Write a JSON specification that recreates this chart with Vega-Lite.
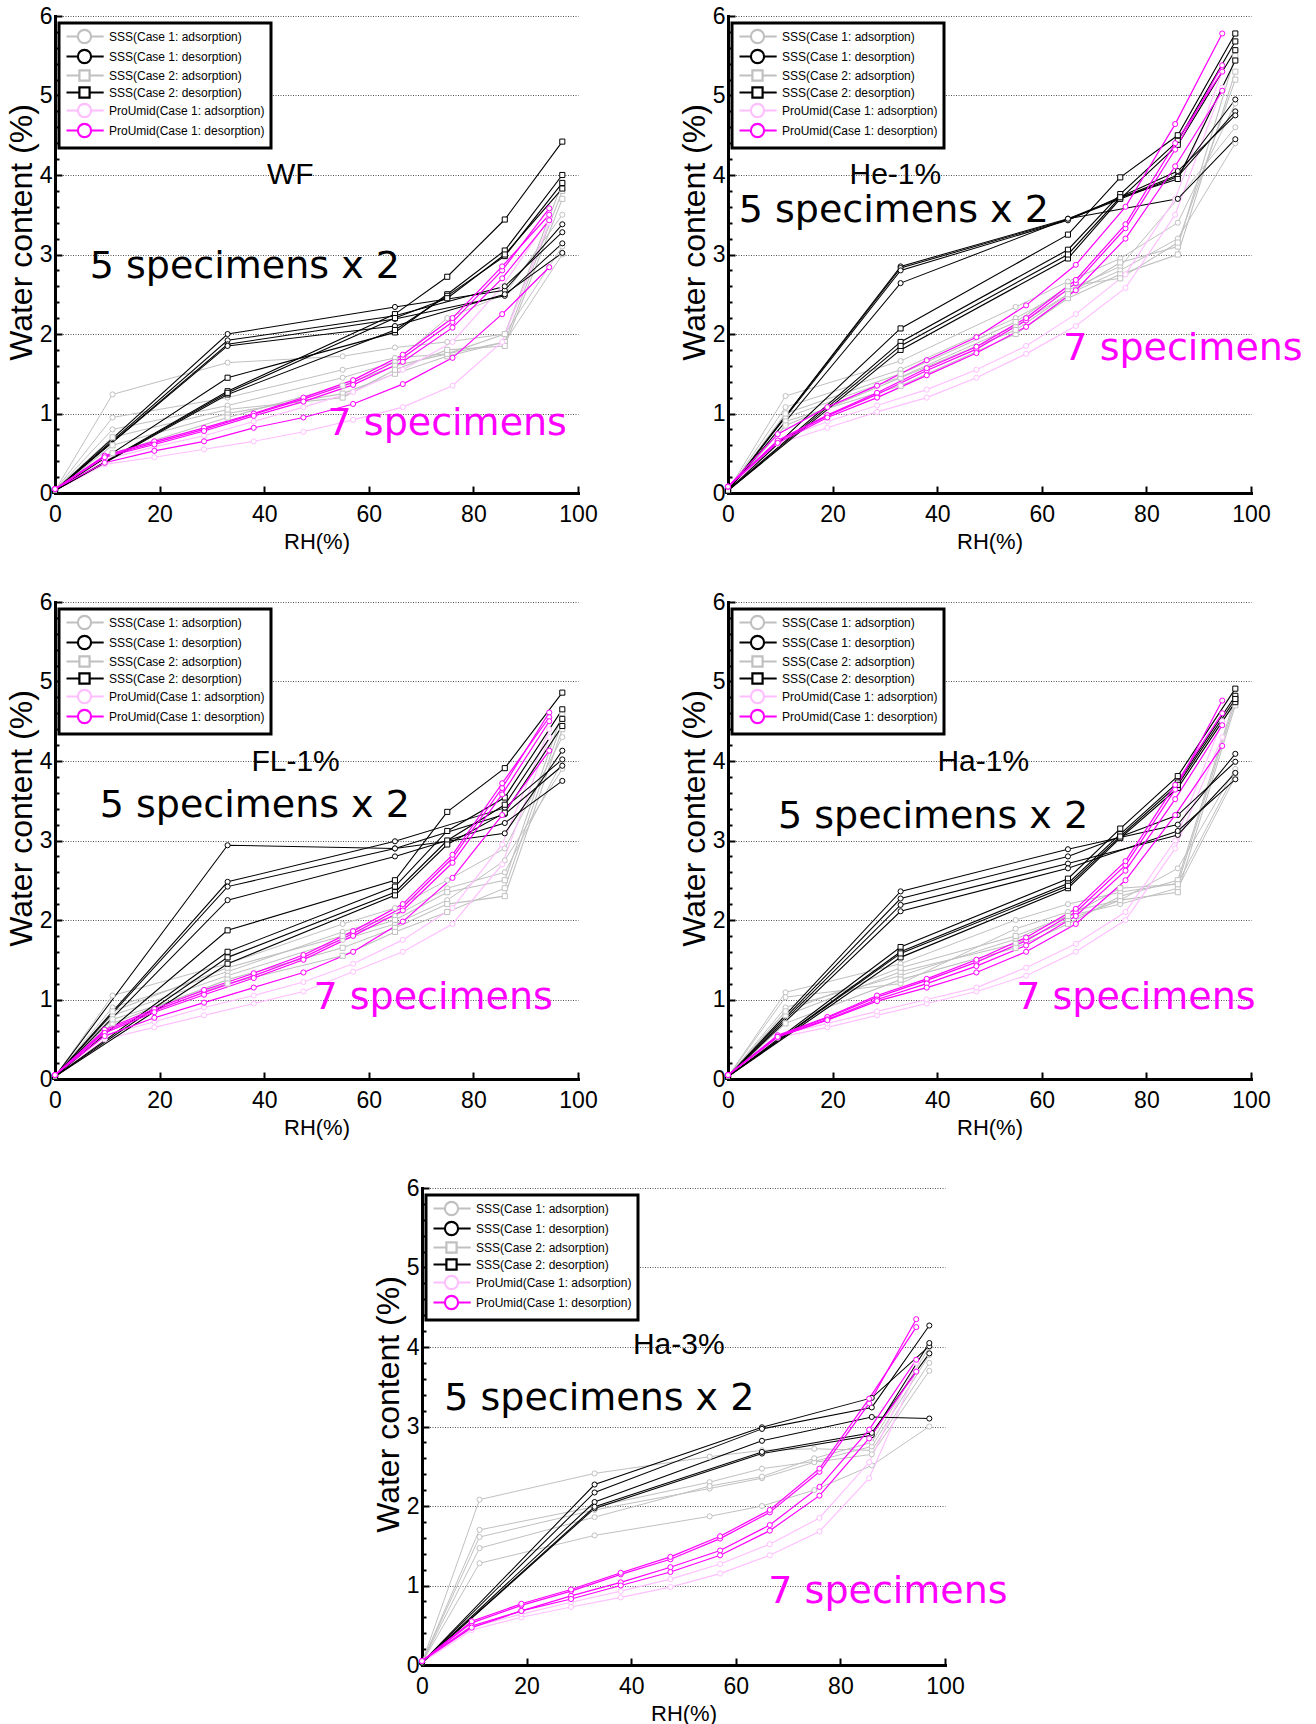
{
"$schema":"https://vega.github.io/schema/vega-lite/v6.json",
"padding":{"left":5,"top":5,"right":5,"bottom":2},
"background":"white",
"config":{
"view":{"stroke":null},
"axis":{"domainColor":"black","domainWidth":3,"domainCap":"square","tickColor":"black","tickWidth":2,"tickSize":-7,"labelFont":"Liberation Sans","labelFontSize":23,"labelColor":"black","labelFlush":false,"titleFont":"Liberation Sans","titleFontSize":22,"titleFontWeight":"normal","titleColor":"black","grid":false},
"axisX":{"labelPadding":17,"titlePadding":5},
"axisY":{"labelPadding":10,"titlePadding":0.5,"gridColor":"#555555","gridDash":[1,1.5],"gridWidth":1,"labelOverlap":false},
"legend":{"strokeColor":"black","fillColor":"white","padding":6,"labelFont":"Liberation Sans","labelFontSize":12,"labelColor":"black","labelLimit":0,"symbolSize":144,"rowPadding":-3,"labelOffset":29,"symbolStrokeWidth":2}
},
"datasets":{
"P1":[
{"g":"a1","i":1,"x":0,"y":0.03},{"g":"a1","i":1,"x":11,"y":1.24},{"g":"a1","i":1,"x":33,"y":1.64},{"g":"a1","i":1,"x":55,"y":1.72},{"g":"a1","i":1,"x":65,"y":1.83},{"g":"a1","i":1,"x":75,"y":1.9},{"g":"a1","i":1,"x":86,"y":2.0},{"g":"a1","i":1,"x":97,"y":3.1},
{"g":"a1","i":2,"x":0,"y":0.03},{"g":"a1","i":2,"x":11,"y":0.95},{"g":"a1","i":2,"x":33,"y":1.2},{"g":"a1","i":2,"x":55,"y":1.55},{"g":"a1","i":2,"x":65,"y":1.7},{"g":"a1","i":2,"x":75,"y":1.75},{"g":"a1","i":2,"x":86,"y":1.9},{"g":"a1","i":2,"x":97,"y":3.0},
{"g":"a1","i":3,"x":0,"y":0.03},{"g":"a1","i":3,"x":11,"y":0.8},{"g":"a1","i":3,"x":33,"y":1.1},{"g":"a1","i":3,"x":55,"y":1.45},{"g":"a1","i":3,"x":65,"y":1.65},{"g":"a1","i":3,"x":75,"y":2.2},{"g":"a1","i":3,"x":86,"y":2.5},{"g":"a1","i":3,"x":97,"y":3.5},
{"g":"a2","i":1,"x":0,"y":0.03},{"g":"a2","i":1,"x":11,"y":0.6},{"g":"a2","i":1,"x":33,"y":1.0},{"g":"a2","i":1,"x":55,"y":1.25},{"g":"a2","i":1,"x":65,"y":1.5},{"g":"a2","i":1,"x":75,"y":1.72},{"g":"a2","i":1,"x":86,"y":1.9},{"g":"a2","i":1,"x":97,"y":3.8},
{"g":"a2","i":2,"x":0,"y":0.03},{"g":"a2","i":2,"x":11,"y":0.5},{"g":"a2","i":2,"x":33,"y":0.95},{"g":"a2","i":2,"x":55,"y":1.35},{"g":"a2","i":2,"x":65,"y":1.6},{"g":"a2","i":2,"x":75,"y":1.75},{"g":"a2","i":2,"x":86,"y":2.0},{"g":"a2","i":2,"x":97,"y":3.9},
{"g":"a2","i":3,"x":0,"y":0.03},{"g":"a2","i":3,"x":11,"y":0.7},{"g":"a2","i":3,"x":33,"y":1.05},{"g":"a2","i":3,"x":55,"y":1.2},{"g":"a2","i":3,"x":65,"y":1.55},{"g":"a2","i":3,"x":75,"y":1.8},{"g":"a2","i":3,"x":86,"y":1.85},{"g":"a2","i":3,"x":97,"y":3.7},
{"g":"pa","i":1,"x":0,"y":0.03},{"g":"pa","i":1,"x":9.5,"y":0.36},{"g":"pa","i":1,"x":19,"y":0.45},{"g":"pa","i":1,"x":28.5,"y":0.55},{"g":"pa","i":1,"x":38,"y":0.65},{"g":"pa","i":1,"x":47.5,"y":0.77},{"g":"pa","i":1,"x":57,"y":0.92},{"g":"pa","i":1,"x":66.5,"y":1.08},{"g":"pa","i":1,"x":76,"y":1.35},{"g":"pa","i":1,"x":85.5,"y":1.9},{"g":"pa","i":1,"x":94.5,"y":3.4},
{"g":"pa","i":2,"x":0,"y":0.03},{"g":"pa","i":2,"x":9.5,"y":0.42},{"g":"pa","i":2,"x":19,"y":0.58},{"g":"pa","i":2,"x":28.5,"y":0.72},{"g":"pa","i":2,"x":38,"y":0.9},{"g":"pa","i":2,"x":47.5,"y":1.08},{"g":"pa","i":2,"x":57,"y":1.27},{"g":"pa","i":2,"x":66.5,"y":1.55},{"g":"pa","i":2,"x":76,"y":1.9},{"g":"pa","i":2,"x":85.5,"y":2.6},{"g":"pa","i":2,"x":94.5,"y":3.45},
{"g":"d1","i":1,"x":0,"y":0.03},{"g":"d1","i":1,"x":33,"y":2.0},{"g":"d1","i":1,"x":65,"y":2.34},{"g":"d1","i":1,"x":86,"y":2.55},{"g":"d1","i":1,"x":97,"y":3.38},
{"g":"d1","i":2,"x":0,"y":0.03},{"g":"d1","i":2,"x":33,"y":1.92},{"g":"d1","i":2,"x":65,"y":2.23},{"g":"d1","i":2,"x":86,"y":2.6},{"g":"d1","i":2,"x":97,"y":3.28},
{"g":"d1","i":3,"x":0,"y":0.03},{"g":"d1","i":3,"x":33,"y":1.87},{"g":"d1","i":3,"x":65,"y":2.19},{"g":"d1","i":3,"x":86,"y":2.48},{"g":"d1","i":3,"x":97,"y":3.14},
{"g":"d1","i":4,"x":0,"y":0.03},{"g":"d1","i":4,"x":33,"y":1.85},{"g":"d1","i":4,"x":65,"y":2.1},{"g":"d1","i":4,"x":86,"y":2.5},{"g":"d1","i":4,"x":97,"y":3.02},
{"g":"d2","i":1,"x":0,"y":0.03},{"g":"d2","i":1,"x":33,"y":1.28},{"g":"d2","i":1,"x":65,"y":2.25},{"g":"d2","i":1,"x":75,"y":2.72},{"g":"d2","i":1,"x":86,"y":3.44},{"g":"d2","i":1,"x":97,"y":4.42},
{"g":"d2","i":2,"x":0,"y":0.03},{"g":"d2","i":2,"x":33,"y":1.45},{"g":"d2","i":2,"x":65,"y":2.02},{"g":"d2","i":2,"x":75,"y":2.5},{"g":"d2","i":2,"x":86,"y":3.05},{"g":"d2","i":2,"x":97,"y":4.0},
{"g":"d2","i":3,"x":0,"y":0.03},{"g":"d2","i":3,"x":33,"y":1.24},{"g":"d2","i":3,"x":65,"y":2.05},{"g":"d2","i":3,"x":75,"y":2.48},{"g":"d2","i":3,"x":86,"y":2.98},{"g":"d2","i":3,"x":97,"y":3.9},
{"g":"d2","i":4,"x":0,"y":0.03},{"g":"d2","i":4,"x":33,"y":1.26},{"g":"d2","i":4,"x":65,"y":2.2},{"g":"d2","i":4,"x":75,"y":2.45},{"g":"d2","i":4,"x":86,"y":3.0},{"g":"d2","i":4,"x":97,"y":3.83},
{"g":"pd","i":1,"x":0,"y":0.05},{"g":"pd","i":1,"x":9.5,"y":0.46},{"g":"pd","i":1,"x":19,"y":0.63},{"g":"pd","i":1,"x":28.5,"y":0.8},{"g":"pd","i":1,"x":38,"y":0.99},{"g":"pd","i":1,"x":47.5,"y":1.18},{"g":"pd","i":1,"x":57,"y":1.39},{"g":"pd","i":1,"x":66.5,"y":1.7},{"g":"pd","i":1,"x":76,"y":2.15},{"g":"pd","i":1,"x":85.5,"y":2.8},{"g":"pd","i":1,"x":94.5,"y":3.58},
{"g":"pd","i":2,"x":0,"y":0.05},{"g":"pd","i":2,"x":9.5,"y":0.47},{"g":"pd","i":2,"x":19,"y":0.65},{"g":"pd","i":2,"x":28.5,"y":0.82},{"g":"pd","i":2,"x":38,"y":1.0},{"g":"pd","i":2,"x":47.5,"y":1.2},{"g":"pd","i":2,"x":57,"y":1.42},{"g":"pd","i":2,"x":66.5,"y":1.74},{"g":"pd","i":2,"x":76,"y":2.2},{"g":"pd","i":2,"x":85.5,"y":2.85},{"g":"pd","i":2,"x":94.5,"y":3.5},
{"g":"pd","i":3,"x":0,"y":0.05},{"g":"pd","i":3,"x":9.5,"y":0.45},{"g":"pd","i":3,"x":19,"y":0.61},{"g":"pd","i":3,"x":28.5,"y":0.78},{"g":"pd","i":3,"x":38,"y":0.97},{"g":"pd","i":3,"x":47.5,"y":1.15},{"g":"pd","i":3,"x":57,"y":1.36},{"g":"pd","i":3,"x":66.5,"y":1.65},{"g":"pd","i":3,"x":76,"y":2.08},{"g":"pd","i":3,"x":85.5,"y":2.7},{"g":"pd","i":3,"x":94.5,"y":3.43},
{"g":"pd","i":4,"x":0,"y":0.05},{"g":"pd","i":4,"x":9.5,"y":0.38},{"g":"pd","i":4,"x":19,"y":0.53},{"g":"pd","i":4,"x":28.5,"y":0.65},{"g":"pd","i":4,"x":38,"y":0.82},{"g":"pd","i":4,"x":47.5,"y":0.95},{"g":"pd","i":4,"x":57,"y":1.12},{"g":"pd","i":4,"x":66.5,"y":1.37},{"g":"pd","i":4,"x":76,"y":1.7},{"g":"pd","i":4,"x":85.5,"y":2.25},{"g":"pd","i":4,"x":94.5,"y":2.84}
],
"P2":[
{"g":"a1","i":1,"x":0,"y":0.03},{"g":"a1","i":1,"x":11,"y":1.22},{"g":"a1","i":1,"x":33,"y":1.66},{"g":"a1","i":1,"x":55,"y":2.34},{"g":"a1","i":1,"x":65,"y":2.66},{"g":"a1","i":1,"x":75,"y":2.95},{"g":"a1","i":1,"x":86,"y":3.4},{"g":"a1","i":1,"x":97,"y":4.9},
{"g":"a1","i":2,"x":0,"y":0.03},{"g":"a1","i":2,"x":11,"y":1.08},{"g":"a1","i":2,"x":33,"y":1.55},{"g":"a1","i":2,"x":55,"y":2.2},{"g":"a1","i":2,"x":65,"y":2.55},{"g":"a1","i":2,"x":75,"y":2.85},{"g":"a1","i":2,"x":86,"y":3.7},{"g":"a1","i":2,"x":97,"y":4.6},
{"g":"a1","i":3,"x":0,"y":0.03},{"g":"a1","i":3,"x":11,"y":0.95},{"g":"a1","i":3,"x":33,"y":1.46},{"g":"a1","i":3,"x":55,"y":2.1},{"g":"a1","i":3,"x":65,"y":2.5},{"g":"a1","i":3,"x":75,"y":2.8},{"g":"a1","i":3,"x":86,"y":3.2},{"g":"a1","i":3,"x":97,"y":4.4},
{"g":"a2","i":1,"x":0,"y":0.03},{"g":"a2","i":1,"x":11,"y":0.9},{"g":"a2","i":1,"x":33,"y":1.35},{"g":"a2","i":1,"x":55,"y":2.0},{"g":"a2","i":1,"x":65,"y":2.45},{"g":"a2","i":1,"x":75,"y":2.75},{"g":"a2","i":1,"x":86,"y":3.0},{"g":"a2","i":1,"x":97,"y":5.3},
{"g":"a2","i":2,"x":0,"y":0.03},{"g":"a2","i":2,"x":11,"y":0.85},{"g":"a2","i":2,"x":33,"y":1.45},{"g":"a2","i":2,"x":55,"y":2.05},{"g":"a2","i":2,"x":65,"y":2.5},{"g":"a2","i":2,"x":75,"y":2.9},{"g":"a2","i":2,"x":86,"y":3.1},{"g":"a2","i":2,"x":97,"y":5.5},
{"g":"a2","i":3,"x":0,"y":0.03},{"g":"a2","i":3,"x":11,"y":1.0},{"g":"a2","i":3,"x":33,"y":1.5},{"g":"a2","i":3,"x":55,"y":2.15},{"g":"a2","i":3,"x":65,"y":2.6},{"g":"a2","i":3,"x":75,"y":2.7},{"g":"a2","i":3,"x":86,"y":3.15},{"g":"a2","i":3,"x":97,"y":5.2},
{"g":"pa","i":1,"x":0,"y":0.03},{"g":"pa","i":1,"x":9.5,"y":0.62},{"g":"pa","i":1,"x":19,"y":0.82},{"g":"pa","i":1,"x":28.5,"y":1.02},{"g":"pa","i":1,"x":38,"y":1.2},{"g":"pa","i":1,"x":47.5,"y":1.45},{"g":"pa","i":1,"x":57,"y":1.75},{"g":"pa","i":1,"x":66.5,"y":2.1},{"g":"pa","i":1,"x":76,"y":2.58},{"g":"pa","i":1,"x":85.5,"y":3.5},{"g":"pa","i":1,"x":94.5,"y":5.1},
{"g":"pa","i":2,"x":0,"y":0.03},{"g":"pa","i":2,"x":9.5,"y":0.66},{"g":"pa","i":2,"x":19,"y":0.9},{"g":"pa","i":2,"x":28.5,"y":1.1},{"g":"pa","i":2,"x":38,"y":1.3},{"g":"pa","i":2,"x":47.5,"y":1.55},{"g":"pa","i":2,"x":57,"y":1.85},{"g":"pa","i":2,"x":66.5,"y":2.25},{"g":"pa","i":2,"x":76,"y":2.75},{"g":"pa","i":2,"x":85.5,"y":3.7},{"g":"pa","i":2,"x":94.5,"y":5.3},
{"g":"d1","i":1,"x":0,"y":0.03},{"g":"d1","i":1,"x":33,"y":2.85},{"g":"d1","i":1,"x":65,"y":3.45},{"g":"d1","i":1,"x":86,"y":4.0},{"g":"d1","i":1,"x":97,"y":4.95},
{"g":"d1","i":2,"x":0,"y":0.03},{"g":"d1","i":2,"x":33,"y":2.83},{"g":"d1","i":2,"x":65,"y":3.44},{"g":"d1","i":2,"x":86,"y":3.98},{"g":"d1","i":2,"x":97,"y":4.8},
{"g":"d1","i":3,"x":0,"y":0.03},{"g":"d1","i":3,"x":33,"y":2.8},{"g":"d1","i":3,"x":65,"y":3.43},{"g":"d1","i":3,"x":86,"y":4.05},{"g":"d1","i":3,"x":97,"y":4.75},
{"g":"d1","i":4,"x":0,"y":0.03},{"g":"d1","i":4,"x":33,"y":2.64},{"g":"d1","i":4,"x":65,"y":3.45},{"g":"d1","i":4,"x":86,"y":3.7},{"g":"d1","i":4,"x":97,"y":4.45},
{"g":"d2","i":1,"x":0,"y":0.03},{"g":"d2","i":1,"x":33,"y":2.07},{"g":"d2","i":1,"x":65,"y":3.25},{"g":"d2","i":1,"x":75,"y":3.97},{"g":"d2","i":1,"x":86,"y":4.5},{"g":"d2","i":1,"x":97,"y":5.78},
{"g":"d2","i":2,"x":0,"y":0.03},{"g":"d2","i":2,"x":33,"y":1.9},{"g":"d2","i":2,"x":65,"y":3.06},{"g":"d2","i":2,"x":75,"y":3.76},{"g":"d2","i":2,"x":86,"y":4.43},{"g":"d2","i":2,"x":97,"y":5.68},
{"g":"d2","i":3,"x":0,"y":0.03},{"g":"d2","i":3,"x":33,"y":1.8},{"g":"d2","i":3,"x":65,"y":2.95},{"g":"d2","i":3,"x":75,"y":3.7},{"g":"d2","i":3,"x":86,"y":4.38},{"g":"d2","i":3,"x":97,"y":5.57},
{"g":"d2","i":4,"x":0,"y":0.03},{"g":"d2","i":4,"x":33,"y":1.85},{"g":"d2","i":4,"x":65,"y":3.0},{"g":"d2","i":4,"x":75,"y":3.72},{"g":"d2","i":4,"x":86,"y":3.95},{"g":"d2","i":4,"x":97,"y":5.44},
{"g":"pd","i":1,"x":0,"y":0.08},{"g":"pd","i":1,"x":9.5,"y":0.74},{"g":"pd","i":1,"x":19,"y":1.08},{"g":"pd","i":1,"x":28.5,"y":1.35},{"g":"pd","i":1,"x":38,"y":1.67},{"g":"pd","i":1,"x":47.5,"y":1.96},{"g":"pd","i":1,"x":57,"y":2.36},{"g":"pd","i":1,"x":66.5,"y":2.87},{"g":"pd","i":1,"x":76,"y":3.6},{"g":"pd","i":1,"x":85.5,"y":4.64},{"g":"pd","i":1,"x":94.5,"y":5.78},
{"g":"pd","i":2,"x":0,"y":0.08},{"g":"pd","i":2,"x":9.5,"y":0.65},{"g":"pd","i":2,"x":19,"y":0.97},{"g":"pd","i":2,"x":28.5,"y":1.24},{"g":"pd","i":2,"x":38,"y":1.54},{"g":"pd","i":2,"x":47.5,"y":1.81},{"g":"pd","i":2,"x":57,"y":2.17},{"g":"pd","i":2,"x":66.5,"y":2.64},{"g":"pd","i":2,"x":76,"y":3.33},{"g":"pd","i":2,"x":85.5,"y":4.32},{"g":"pd","i":2,"x":94.5,"y":5.38},
{"g":"pd","i":3,"x":0,"y":0.08},{"g":"pd","i":3,"x":9.5,"y":0.66},{"g":"pd","i":3,"x":19,"y":0.98},{"g":"pd","i":3,"x":28.5,"y":1.26},{"g":"pd","i":3,"x":38,"y":1.57},{"g":"pd","i":3,"x":47.5,"y":1.84},{"g":"pd","i":3,"x":57,"y":2.2},{"g":"pd","i":3,"x":66.5,"y":2.68},{"g":"pd","i":3,"x":76,"y":3.38},{"g":"pd","i":3,"x":85.5,"y":4.4},{"g":"pd","i":3,"x":94.5,"y":5.3},
{"g":"pd","i":4,"x":0,"y":0.08},{"g":"pd","i":4,"x":9.5,"y":0.63},{"g":"pd","i":4,"x":19,"y":0.95},{"g":"pd","i":4,"x":28.5,"y":1.2},{"g":"pd","i":4,"x":38,"y":1.48},{"g":"pd","i":4,"x":47.5,"y":1.76},{"g":"pd","i":4,"x":57,"y":2.09},{"g":"pd","i":4,"x":66.5,"y":2.55},{"g":"pd","i":4,"x":76,"y":3.2},{"g":"pd","i":4,"x":85.5,"y":4.11},{"g":"pd","i":4,"x":94.5,"y":5.06}
],
"P3":[
{"g":"a1","i":1,"x":0,"y":0.03},{"g":"a1","i":1,"x":11,"y":1.05},{"g":"a1","i":1,"x":33,"y":1.45},{"g":"a1","i":1,"x":55,"y":1.95},{"g":"a1","i":1,"x":65,"y":2.15},{"g":"a1","i":1,"x":75,"y":2.5},{"g":"a1","i":1,"x":86,"y":2.9},{"g":"a1","i":1,"x":97,"y":4.3},
{"g":"a1","i":2,"x":0,"y":0.03},{"g":"a1","i":2,"x":11,"y":0.9},{"g":"a1","i":2,"x":33,"y":1.35},{"g":"a1","i":2,"x":55,"y":1.85},{"g":"a1","i":2,"x":65,"y":2.05},{"g":"a1","i":2,"x":75,"y":2.4},{"g":"a1","i":2,"x":86,"y":2.6},{"g":"a1","i":2,"x":97,"y":4.0},
{"g":"a1","i":3,"x":0,"y":0.03},{"g":"a1","i":3,"x":11,"y":0.8},{"g":"a1","i":3,"x":33,"y":1.3},{"g":"a1","i":3,"x":55,"y":1.75},{"g":"a1","i":3,"x":65,"y":1.95},{"g":"a1","i":3,"x":75,"y":2.25},{"g":"a1","i":3,"x":86,"y":2.75},{"g":"a1","i":3,"x":97,"y":3.9},
{"g":"a2","i":1,"x":0,"y":0.03},{"g":"a2","i":1,"x":11,"y":0.7},{"g":"a2","i":1,"x":33,"y":1.25},{"g":"a2","i":1,"x":55,"y":1.65},{"g":"a2","i":1,"x":65,"y":1.9},{"g":"a2","i":1,"x":75,"y":2.2},{"g":"a2","i":1,"x":86,"y":2.3},{"g":"a2","i":1,"x":97,"y":4.4},
{"g":"a2","i":2,"x":0,"y":0.03},{"g":"a2","i":2,"x":11,"y":0.75},{"g":"a2","i":2,"x":33,"y":1.2},{"g":"a2","i":2,"x":55,"y":1.55},{"g":"a2","i":2,"x":65,"y":1.85},{"g":"a2","i":2,"x":75,"y":2.1},{"g":"a2","i":2,"x":86,"y":2.4},{"g":"a2","i":2,"x":97,"y":4.5},
{"g":"a2","i":3,"x":0,"y":0.03},{"g":"a2","i":3,"x":11,"y":0.85},{"g":"a2","i":3,"x":33,"y":1.4},{"g":"a2","i":3,"x":55,"y":1.8},{"g":"a2","i":3,"x":65,"y":2.0},{"g":"a2","i":3,"x":75,"y":2.35},{"g":"a2","i":3,"x":86,"y":2.5},{"g":"a2","i":3,"x":97,"y":4.6},
{"g":"pa","i":1,"x":0,"y":0.03},{"g":"pa","i":1,"x":9.5,"y":0.5},{"g":"pa","i":1,"x":19,"y":0.65},{"g":"pa","i":1,"x":28.5,"y":0.8},{"g":"pa","i":1,"x":38,"y":0.95},{"g":"pa","i":1,"x":47.5,"y":1.1},{"g":"pa","i":1,"x":57,"y":1.35},{"g":"pa","i":1,"x":66.5,"y":1.6},{"g":"pa","i":1,"x":76,"y":1.95},{"g":"pa","i":1,"x":85.5,"y":2.7},{"g":"pa","i":1,"x":94.5,"y":4.3},
{"g":"pa","i":2,"x":0,"y":0.03},{"g":"pa","i":2,"x":9.5,"y":0.55},{"g":"pa","i":2,"x":19,"y":0.72},{"g":"pa","i":2,"x":28.5,"y":0.9},{"g":"pa","i":2,"x":38,"y":1.05},{"g":"pa","i":2,"x":47.5,"y":1.22},{"g":"pa","i":2,"x":57,"y":1.45},{"g":"pa","i":2,"x":66.5,"y":1.75},{"g":"pa","i":2,"x":76,"y":2.15},{"g":"pa","i":2,"x":85.5,"y":2.95},{"g":"pa","i":2,"x":94.5,"y":4.4},
{"g":"d1","i":1,"x":0,"y":0.03},{"g":"d1","i":1,"x":33,"y":2.94},{"g":"d1","i":1,"x":65,"y":2.9},{"g":"d1","i":1,"x":86,"y":3.09},{"g":"d1","i":1,"x":97,"y":4.13},
{"g":"d1","i":2,"x":0,"y":0.03},{"g":"d1","i":2,"x":33,"y":2.48},{"g":"d1","i":2,"x":65,"y":2.99},{"g":"d1","i":2,"x":86,"y":3.41},{"g":"d1","i":2,"x":97,"y":4.02},
{"g":"d1","i":3,"x":0,"y":0.03},{"g":"d1","i":3,"x":33,"y":2.42},{"g":"d1","i":3,"x":65,"y":2.9},{"g":"d1","i":3,"x":86,"y":3.33},{"g":"d1","i":3,"x":97,"y":3.94},
{"g":"d1","i":4,"x":0,"y":0.03},{"g":"d1","i":4,"x":33,"y":2.25},{"g":"d1","i":4,"x":65,"y":2.8},{"g":"d1","i":4,"x":86,"y":3.22},{"g":"d1","i":4,"x":97,"y":3.75},
{"g":"d2","i":1,"x":0,"y":0.03},{"g":"d2","i":1,"x":33,"y":1.87},{"g":"d2","i":1,"x":65,"y":2.5},{"g":"d2","i":1,"x":75,"y":3.36},{"g":"d2","i":1,"x":86,"y":3.91},{"g":"d2","i":1,"x":97,"y":4.86},
{"g":"d2","i":2,"x":0,"y":0.03},{"g":"d2","i":2,"x":33,"y":1.6},{"g":"d2","i":2,"x":65,"y":2.42},{"g":"d2","i":2,"x":75,"y":3.12},{"g":"d2","i":2,"x":86,"y":3.54},{"g":"d2","i":2,"x":97,"y":4.65},
{"g":"d2","i":3,"x":0,"y":0.03},{"g":"d2","i":3,"x":33,"y":1.53},{"g":"d2","i":3,"x":65,"y":2.35},{"g":"d2","i":3,"x":75,"y":3.0},{"g":"d2","i":3,"x":86,"y":3.45},{"g":"d2","i":3,"x":97,"y":4.53},
{"g":"d2","i":4,"x":0,"y":0.03},{"g":"d2","i":4,"x":33,"y":1.45},{"g":"d2","i":4,"x":65,"y":2.31},{"g":"d2","i":4,"x":75,"y":2.95},{"g":"d2","i":4,"x":86,"y":3.35},{"g":"d2","i":4,"x":97,"y":4.44},
{"g":"pd","i":1,"x":0,"y":0.05},{"g":"pd","i":1,"x":9.5,"y":0.6},{"g":"pd","i":1,"x":19,"y":0.86},{"g":"pd","i":1,"x":28.5,"y":1.09},{"g":"pd","i":1,"x":38,"y":1.3},{"g":"pd","i":1,"x":47.5,"y":1.53},{"g":"pd","i":1,"x":57,"y":1.83},{"g":"pd","i":1,"x":66.5,"y":2.16},{"g":"pd","i":1,"x":76,"y":2.78},{"g":"pd","i":1,"x":85.5,"y":3.66},{"g":"pd","i":1,"x":94.5,"y":4.61},
{"g":"pd","i":2,"x":0,"y":0.05},{"g":"pd","i":2,"x":9.5,"y":0.62},{"g":"pd","i":2,"x":19,"y":0.88},{"g":"pd","i":2,"x":28.5,"y":1.12},{"g":"pd","i":2,"x":38,"y":1.33},{"g":"pd","i":2,"x":47.5,"y":1.56},{"g":"pd","i":2,"x":57,"y":1.86},{"g":"pd","i":2,"x":66.5,"y":2.2},{"g":"pd","i":2,"x":76,"y":2.82},{"g":"pd","i":2,"x":85.5,"y":3.72},{"g":"pd","i":2,"x":94.5,"y":4.55},
{"g":"pd","i":3,"x":0,"y":0.05},{"g":"pd","i":3,"x":9.5,"y":0.58},{"g":"pd","i":3,"x":19,"y":0.84},{"g":"pd","i":3,"x":28.5,"y":1.06},{"g":"pd","i":3,"x":38,"y":1.27},{"g":"pd","i":3,"x":47.5,"y":1.5},{"g":"pd","i":3,"x":57,"y":1.8},{"g":"pd","i":3,"x":66.5,"y":2.12},{"g":"pd","i":3,"x":76,"y":2.72},{"g":"pd","i":3,"x":85.5,"y":3.58},{"g":"pd","i":3,"x":94.5,"y":4.5},
{"g":"pd","i":4,"x":0,"y":0.05},{"g":"pd","i":4,"x":9.5,"y":0.54},{"g":"pd","i":4,"x":19,"y":0.77},{"g":"pd","i":4,"x":28.5,"y":0.96},{"g":"pd","i":4,"x":38,"y":1.15},{"g":"pd","i":4,"x":47.5,"y":1.34},{"g":"pd","i":4,"x":57,"y":1.6},{"g":"pd","i":4,"x":66.5,"y":1.98},{"g":"pd","i":4,"x":76,"y":2.53},{"g":"pd","i":4,"x":85.5,"y":3.32},{"g":"pd","i":4,"x":94.5,"y":4.13}
],
"P4":[
{"g":"a1","i":1,"x":0,"y":0.03},{"g":"a1","i":1,"x":11,"y":1.09},{"g":"a1","i":1,"x":33,"y":1.45},{"g":"a1","i":1,"x":55,"y":2.0},{"g":"a1","i":1,"x":65,"y":2.2},{"g":"a1","i":1,"x":75,"y":2.35},{"g":"a1","i":1,"x":86,"y":2.46},{"g":"a1","i":1,"x":97,"y":3.85},
{"g":"a1","i":2,"x":0,"y":0.03},{"g":"a1","i":2,"x":11,"y":1.03},{"g":"a1","i":2,"x":33,"y":1.2},{"g":"a1","i":2,"x":55,"y":1.89},{"g":"a1","i":2,"x":65,"y":2.1},{"g":"a1","i":2,"x":75,"y":2.25},{"g":"a1","i":2,"x":86,"y":2.65},{"g":"a1","i":2,"x":97,"y":3.9},
{"g":"a1","i":3,"x":0,"y":0.03},{"g":"a1","i":3,"x":11,"y":0.9},{"g":"a1","i":3,"x":33,"y":1.3},{"g":"a1","i":3,"x":55,"y":1.76},{"g":"a1","i":3,"x":65,"y":2.05},{"g":"a1","i":3,"x":75,"y":2.2},{"g":"a1","i":3,"x":86,"y":2.4},{"g":"a1","i":3,"x":97,"y":3.8},
{"g":"a2","i":1,"x":0,"y":0.03},{"g":"a2","i":1,"x":11,"y":0.8},{"g":"a2","i":1,"x":33,"y":1.35},{"g":"a2","i":1,"x":55,"y":1.7},{"g":"a2","i":1,"x":65,"y":2.0},{"g":"a2","i":1,"x":75,"y":2.25},{"g":"a2","i":1,"x":86,"y":2.35},{"g":"a2","i":1,"x":97,"y":4.7},
{"g":"a2","i":2,"x":0,"y":0.03},{"g":"a2","i":2,"x":11,"y":0.7},{"g":"a2","i":2,"x":33,"y":1.25},{"g":"a2","i":2,"x":55,"y":1.65},{"g":"a2","i":2,"x":65,"y":1.95},{"g":"a2","i":2,"x":75,"y":2.3},{"g":"a2","i":2,"x":86,"y":2.5},{"g":"a2","i":2,"x":97,"y":4.8},
{"g":"a2","i":3,"x":0,"y":0.03},{"g":"a2","i":3,"x":11,"y":0.85},{"g":"a2","i":3,"x":33,"y":1.4},{"g":"a2","i":3,"x":55,"y":1.8},{"g":"a2","i":3,"x":65,"y":2.05},{"g":"a2","i":3,"x":75,"y":2.4},{"g":"a2","i":3,"x":86,"y":2.45},{"g":"a2","i":3,"x":97,"y":4.75},
{"g":"pa","i":1,"x":0,"y":0.03},{"g":"pa","i":1,"x":9.5,"y":0.52},{"g":"pa","i":1,"x":19,"y":0.65},{"g":"pa","i":1,"x":28.5,"y":0.8},{"g":"pa","i":1,"x":38,"y":0.95},{"g":"pa","i":1,"x":47.5,"y":1.1},{"g":"pa","i":1,"x":57,"y":1.3},{"g":"pa","i":1,"x":66.5,"y":1.6},{"g":"pa","i":1,"x":76,"y":2.0},{"g":"pa","i":1,"x":85.5,"y":2.9},{"g":"pa","i":1,"x":94.5,"y":4.3},
{"g":"pa","i":2,"x":0,"y":0.03},{"g":"pa","i":2,"x":9.5,"y":0.55},{"g":"pa","i":2,"x":19,"y":0.7},{"g":"pa","i":2,"x":28.5,"y":0.85},{"g":"pa","i":2,"x":38,"y":1.0},{"g":"pa","i":2,"x":47.5,"y":1.15},{"g":"pa","i":2,"x":57,"y":1.4},{"g":"pa","i":2,"x":66.5,"y":1.7},{"g":"pa","i":2,"x":76,"y":2.1},{"g":"pa","i":2,"x":85.5,"y":3.0},{"g":"pa","i":2,"x":94.5,"y":4.5},
{"g":"d1","i":1,"x":0,"y":0.03},{"g":"d1","i":1,"x":33,"y":2.36},{"g":"d1","i":1,"x":65,"y":2.89},{"g":"d1","i":1,"x":86,"y":3.2},{"g":"d1","i":1,"x":97,"y":4.09},
{"g":"d1","i":2,"x":0,"y":0.03},{"g":"d1","i":2,"x":33,"y":2.27},{"g":"d1","i":2,"x":65,"y":2.8},{"g":"d1","i":2,"x":86,"y":3.32},{"g":"d1","i":2,"x":97,"y":3.99},
{"g":"d1","i":3,"x":0,"y":0.03},{"g":"d1","i":3,"x":33,"y":2.19},{"g":"d1","i":3,"x":65,"y":2.71},{"g":"d1","i":3,"x":86,"y":3.07},{"g":"d1","i":3,"x":97,"y":3.85},
{"g":"d1","i":4,"x":0,"y":0.03},{"g":"d1","i":4,"x":33,"y":2.11},{"g":"d1","i":4,"x":65,"y":2.65},{"g":"d1","i":4,"x":86,"y":3.12},{"g":"d1","i":4,"x":97,"y":3.77},
{"g":"d2","i":1,"x":0,"y":0.03},{"g":"d2","i":1,"x":33,"y":1.66},{"g":"d2","i":1,"x":65,"y":2.52},{"g":"d2","i":1,"x":75,"y":3.15},{"g":"d2","i":1,"x":86,"y":3.81},{"g":"d2","i":1,"x":97,"y":4.91},
{"g":"d2","i":2,"x":0,"y":0.03},{"g":"d2","i":2,"x":33,"y":1.6},{"g":"d2","i":2,"x":65,"y":2.46},{"g":"d2","i":2,"x":75,"y":3.08},{"g":"d2","i":2,"x":86,"y":3.73},{"g":"d2","i":2,"x":97,"y":4.82},
{"g":"d2","i":3,"x":0,"y":0.03},{"g":"d2","i":3,"x":33,"y":1.53},{"g":"d2","i":3,"x":65,"y":2.4},{"g":"d2","i":3,"x":75,"y":3.03},{"g":"d2","i":3,"x":86,"y":3.66},{"g":"d2","i":3,"x":97,"y":4.74},
{"g":"d2","i":4,"x":0,"y":0.03},{"g":"d2","i":4,"x":33,"y":1.58},{"g":"d2","i":4,"x":65,"y":2.43},{"g":"d2","i":4,"x":75,"y":3.05},{"g":"d2","i":4,"x":86,"y":3.7},{"g":"d2","i":4,"x":97,"y":4.78},
{"g":"pd","i":1,"x":0,"y":0.05},{"g":"pd","i":1,"x":9.5,"y":0.54},{"g":"pd","i":1,"x":19,"y":0.77},{"g":"pd","i":1,"x":28.5,"y":1.03},{"g":"pd","i":1,"x":38,"y":1.24},{"g":"pd","i":1,"x":47.5,"y":1.47},{"g":"pd","i":1,"x":57,"y":1.74},{"g":"pd","i":1,"x":66.5,"y":2.1},{"g":"pd","i":1,"x":76,"y":2.69},{"g":"pd","i":1,"x":85.5,"y":3.64},{"g":"pd","i":1,"x":94.5,"y":4.76},
{"g":"pd","i":2,"x":0,"y":0.05},{"g":"pd","i":2,"x":9.5,"y":0.55},{"g":"pd","i":2,"x":19,"y":0.78},{"g":"pd","i":2,"x":28.5,"y":1.05},{"g":"pd","i":2,"x":38,"y":1.26},{"g":"pd","i":2,"x":47.5,"y":1.5},{"g":"pd","i":2,"x":57,"y":1.78},{"g":"pd","i":2,"x":66.5,"y":2.14},{"g":"pd","i":2,"x":76,"y":2.74},{"g":"pd","i":2,"x":85.5,"y":3.7},{"g":"pd","i":2,"x":94.5,"y":4.6},
{"g":"pd","i":3,"x":0,"y":0.05},{"g":"pd","i":3,"x":9.5,"y":0.53},{"g":"pd","i":3,"x":19,"y":0.75},{"g":"pd","i":3,"x":28.5,"y":1.0},{"g":"pd","i":3,"x":38,"y":1.2},{"g":"pd","i":3,"x":47.5,"y":1.42},{"g":"pd","i":3,"x":57,"y":1.68},{"g":"pd","i":3,"x":66.5,"y":2.05},{"g":"pd","i":3,"x":76,"y":2.62},{"g":"pd","i":3,"x":85.5,"y":3.52},{"g":"pd","i":3,"x":94.5,"y":4.45},
{"g":"pd","i":4,"x":0,"y":0.05},{"g":"pd","i":4,"x":9.5,"y":0.53},{"g":"pd","i":4,"x":19,"y":0.74},{"g":"pd","i":4,"x":28.5,"y":0.98},{"g":"pd","i":4,"x":38,"y":1.15},{"g":"pd","i":4,"x":47.5,"y":1.34},{"g":"pd","i":4,"x":57,"y":1.6},{"g":"pd","i":4,"x":66.5,"y":1.95},{"g":"pd","i":4,"x":76,"y":2.5},{"g":"pd","i":4,"x":85.5,"y":3.32},{"g":"pd","i":4,"x":94.5,"y":4.19}
],
"P5":[
{"g":"a1","i":1,"x":0,"y":0.03},{"g":"a1","i":1,"x":11,"y":2.08},{"g":"a1","i":1,"x":33,"y":2.41},{"g":"a1","i":1,"x":55,"y":2.62},{"g":"a1","i":1,"x":65,"y":2.7},{"g":"a1","i":1,"x":75,"y":2.72},{"g":"a1","i":1,"x":86,"y":2.7},{"g":"a1","i":1,"x":97,"y":3.8},
{"g":"a1","i":2,"x":0,"y":0.03},{"g":"a1","i":2,"x":11,"y":1.7},{"g":"a1","i":2,"x":33,"y":1.99},{"g":"a1","i":2,"x":55,"y":2.3},{"g":"a1","i":2,"x":65,"y":2.47},{"g":"a1","i":2,"x":75,"y":2.56},{"g":"a1","i":2,"x":86,"y":2.75},{"g":"a1","i":2,"x":97,"y":3.9},
{"g":"a1","i":3,"x":0,"y":0.03},{"g":"a1","i":3,"x":11,"y":1.61},{"g":"a1","i":3,"x":33,"y":1.95},{"g":"a1","i":3,"x":55,"y":2.22},{"g":"a1","i":3,"x":65,"y":2.35},{"g":"a1","i":3,"x":75,"y":2.55},{"g":"a1","i":3,"x":86,"y":2.65},{"g":"a1","i":3,"x":97,"y":3.7},
{"g":"a1","i":4,"x":0,"y":0.03},{"g":"a1","i":4,"x":11,"y":1.47},{"g":"a1","i":4,"x":33,"y":1.86},{"g":"a1","i":4,"x":55,"y":2.25},{"g":"a1","i":4,"x":65,"y":2.37},{"g":"a1","i":4,"x":75,"y":2.6},{"g":"a1","i":4,"x":86,"y":2.8},{"g":"a1","i":4,"x":97,"y":4.0},
{"g":"a1","i":5,"x":0,"y":0.03},{"g":"a1","i":5,"x":11,"y":1.28},{"g":"a1","i":5,"x":33,"y":1.63},{"g":"a1","i":5,"x":55,"y":1.87},{"g":"a1","i":5,"x":65,"y":2.0},{"g":"a1","i":5,"x":75,"y":2.2},{"g":"a1","i":5,"x":86,"y":2.51},{"g":"a1","i":5,"x":97,"y":3.0},
{"g":"pa","i":1,"x":0,"y":0.03},{"g":"pa","i":1,"x":9.5,"y":0.44},{"g":"pa","i":1,"x":19,"y":0.6},{"g":"pa","i":1,"x":28.5,"y":0.73},{"g":"pa","i":1,"x":38,"y":0.85},{"g":"pa","i":1,"x":47.5,"y":0.98},{"g":"pa","i":1,"x":57,"y":1.15},{"g":"pa","i":1,"x":66.5,"y":1.38},{"g":"pa","i":1,"x":76,"y":1.68},{"g":"pa","i":1,"x":85.5,"y":2.35},{"g":"pa","i":1,"x":94.5,"y":3.7},
{"g":"pa","i":2,"x":0,"y":0.03},{"g":"pa","i":2,"x":9.5,"y":0.48},{"g":"pa","i":2,"x":19,"y":0.64},{"g":"pa","i":2,"x":28.5,"y":0.79},{"g":"pa","i":2,"x":38,"y":0.93},{"g":"pa","i":2,"x":47.5,"y":1.08},{"g":"pa","i":2,"x":57,"y":1.27},{"g":"pa","i":2,"x":66.5,"y":1.52},{"g":"pa","i":2,"x":76,"y":1.85},{"g":"pa","i":2,"x":85.5,"y":2.55},{"g":"pa","i":2,"x":94.5,"y":3.8},
{"g":"d1","i":1,"x":0,"y":0.03},{"g":"d1","i":1,"x":33,"y":2.27},{"g":"d1","i":1,"x":65,"y":2.99},{"g":"d1","i":1,"x":86,"y":3.36},{"g":"d1","i":1,"x":97,"y":4.01},
{"g":"d1","i":2,"x":0,"y":0.03},{"g":"d1","i":2,"x":33,"y":2.17},{"g":"d1","i":2,"x":65,"y":2.97},{"g":"d1","i":2,"x":86,"y":3.24},{"g":"d1","i":2,"x":97,"y":4.27},
{"g":"d1","i":3,"x":0,"y":0.03},{"g":"d1","i":3,"x":33,"y":2.05},{"g":"d1","i":3,"x":65,"y":2.82},{"g":"d1","i":3,"x":86,"y":3.12},{"g":"d1","i":3,"x":97,"y":3.1},
{"g":"d1","i":4,"x":0,"y":0.03},{"g":"d1","i":4,"x":33,"y":1.97},{"g":"d1","i":4,"x":65,"y":2.66},{"g":"d1","i":4,"x":86,"y":2.89},{"g":"d1","i":4,"x":97,"y":4.05},
{"g":"d1","i":5,"x":0,"y":0.03},{"g":"d1","i":5,"x":33,"y":1.99},{"g":"d1","i":5,"x":65,"y":2.68},{"g":"d1","i":5,"x":86,"y":2.92},{"g":"d1","i":5,"x":97,"y":3.92},
{"g":"pd","i":1,"x":0,"y":0.05},{"g":"pd","i":1,"x":9.5,"y":0.53},{"g":"pd","i":1,"x":19,"y":0.75},{"g":"pd","i":1,"x":28.5,"y":0.93},{"g":"pd","i":1,"x":38,"y":1.14},{"g":"pd","i":1,"x":47.5,"y":1.33},{"g":"pd","i":1,"x":57,"y":1.59},{"g":"pd","i":1,"x":66.5,"y":1.92},{"g":"pd","i":1,"x":76,"y":2.43},{"g":"pd","i":1,"x":85.5,"y":3.29},{"g":"pd","i":1,"x":94.5,"y":4.35},
{"g":"pd","i":2,"x":0,"y":0.05},{"g":"pd","i":2,"x":9.5,"y":0.55},{"g":"pd","i":2,"x":19,"y":0.77},{"g":"pd","i":2,"x":28.5,"y":0.95},{"g":"pd","i":2,"x":38,"y":1.16},{"g":"pd","i":2,"x":47.5,"y":1.36},{"g":"pd","i":2,"x":57,"y":1.62},{"g":"pd","i":2,"x":66.5,"y":1.95},{"g":"pd","i":2,"x":76,"y":2.47},{"g":"pd","i":2,"x":85.5,"y":3.35},{"g":"pd","i":2,"x":94.5,"y":4.25},
{"g":"pd","i":3,"x":0,"y":0.05},{"g":"pd","i":3,"x":9.5,"y":0.49},{"g":"pd","i":3,"x":19,"y":0.68},{"g":"pd","i":3,"x":28.5,"y":0.87},{"g":"pd","i":3,"x":38,"y":1.04},{"g":"pd","i":3,"x":47.5,"y":1.23},{"g":"pd","i":3,"x":57,"y":1.44},{"g":"pd","i":3,"x":66.5,"y":1.76},{"g":"pd","i":3,"x":76,"y":2.24},{"g":"pd","i":3,"x":85.5,"y":2.96},{"g":"pd","i":3,"x":94.5,"y":3.84},
{"g":"pd","i":4,"x":0,"y":0.05},{"g":"pd","i":4,"x":9.5,"y":0.47},{"g":"pd","i":4,"x":19,"y":0.68},{"g":"pd","i":4,"x":28.5,"y":0.83},{"g":"pd","i":4,"x":38,"y":1.0},{"g":"pd","i":4,"x":47.5,"y":1.17},{"g":"pd","i":4,"x":57,"y":1.38},{"g":"pd","i":4,"x":66.5,"y":1.69},{"g":"pd","i":4,"x":76,"y":2.13},{"g":"pd","i":4,"x":85.5,"y":2.85},{"g":"pd","i":4,"x":94.5,"y":3.69}
],
"T":[
{"p":1,"k":"n","x":45,"y":4.0,"t":"WF"},{"p":1,"k":"s","x":36.3,"y":2.84,"t":"5 specimens x 2"},{"p":1,"k":"m","x":75,"y":0.87,"t":"7 specimens"},
{"p":2,"k":"n","x":32,"y":4.0,"t":"He-1%"},{"p":2,"k":"s","x":31.7,"y":3.55,"t":"5 specimens x 2"},{"p":2,"k":"m","x":87,"y":1.81,"t":"7 specimens"},
{"p":3,"k":"n","x":46,"y":3.99,"t":"FL-1%"},{"p":3,"k":"s","x":38.2,"y":3.43,"t":"5 specimens x 2"},{"p":3,"k":"m","x":72.3,"y":1.02,"t":"7 specimens"},
{"p":4,"k":"n","x":48.8,"y":3.99,"t":"Ha-1%"},{"p":4,"k":"s","x":39.2,"y":3.3,"t":"5 specimens x 2"},{"p":4,"k":"m","x":78,"y":1.02,"t":"7 specimens"},
{"p":5,"k":"n","x":49.1,"y":4.02,"t":"Ha-3%"},{"p":5,"k":"s","x":33.9,"y":3.35,"t":"5 specimens x 2"},{"p":5,"k":"m","x":89.1,"y":0.92,"t":"7 specimens"}
]
},
"spacing":39,
"resolve":{"legend":{"color":"independent"}},
"vconcat":[
{"spacing":80,"resolve":{"legend":{"color":"independent"}},"hconcat":[
{"width":523,"height":477,"data":{"name":"P1"},
"encoding":{"x":{"field":"x","type":"quantitative","scale":{"domain":[0,100],"nice":false,"zero":false},"axis":{"values":[0,20,40,60,80,100],"title":"RH(%)"}},"y":{"field":"y","type":"quantitative","scale":{"domain":[0,6],"nice":false},"axis":{"values":[0,0.2,0.4,0.6,0.8,1,1.2,1.4,1.6,1.8,2,2.2,2.4,2.6,2.8,3,3.2,3.4,3.6,3.8,4,4.2,4.4,4.6,4.8,5,5.2,5.4,5.6,5.8,6],"labelExpr":"abs(datum.value-round(datum.value))<0.001 ? toString(round(datum.value)) : ''","tickSize":{"condition":{"test":"abs(datum.value-round(datum.value))<0.001","value":-7},"value":-4},"gridOpacity":{"condition":{"test":"abs(datum.value-round(datum.value))<0.001","value":1},"value":0},"title":"Water content (%)","titleFontSize":32,"titleY":216,"grid":true}}},
"layer":[
{"mark":{"type":"line"},"encoding":{"detail":{"field":"i","type":"nominal"},"strokeWidth":{"field":"g","type":"nominal","scale":{"domain":["a1","d1","a2","d2","pa","pd"],"range":[1,1.2,1,1.2,1,1.6]},"legend":null},"color":{"field":"g","type":"nominal","scale":{"domain":["a1","d1","a2","d2","pa","pd"],"range":["#c0c0c0","#000000","#c0c0c0","#000000","#ffbfff","#ff00ff"]},"legend":{"title":null,"orient":"none","legendX":4,"legendY":7,"labelExpr":"datum.value=='a1'?'SSS(Case 1: adsorption)':datum.value=='d1'?'SSS(Case 1: desorption)':datum.value=='a2'?'SSS(Case 2: adsorption)':datum.value=='d2'?'SSS(Case 2: desorption)':datum.value=='pa'?'ProUmid(Case 1: adsorption)':'ProUmid(Case 1: desorption)'","encode":{"symbols":{"update":{"shape":{"signal":"(datum.value=='a2'||datum.value=='d2')?'M-1,0H1.15M2.85,0H5.2M1.15,-0.85H2.85V0.85H1.15Z':'M-1,0H0.9M3.1,0H5.2M3.1,0A1.1,1.1,0,1,1,0.9,0A1.1,1.1,0,1,1,3.1,0'"},"strokeWidth":{"value":2.2},"fill":{"value":"white"},"fillOpacity":{"value":1},"opacity":{"value":1}}},"legend":{"update":{"strokeWidth":{"value":3}}}}}}}},
{"mark":{"type":"point","filled":false,"fill":"white","size":26,"strokeWidth":1,"opacity":1},"encoding":{"color":{"field":"g","type":"nominal","scale":{"domain":["a1","d1","a2","d2","pa","pd"],"range":["#c0c0c0","#000000","#c0c0c0","#000000","#ffbfff","#ff00ff"]}},"shape":{"field":"g","type":"nominal","scale":{"domain":["a1","d1","a2","d2","pa","pd"],"range":["circle","circle","square","square","circle","circle"]},"legend":null}}},
{"data":{"name":"T"},"transform":[{"filter":"datum.p==1 && datum.k=='n'"}],"mark":{"type":"text","font":"Liberation Sans","fontSize":30,"baseline":"middle","align":"center"},"encoding":{"text":{"field":"t"},"color":{"value":"black"}}},
{"data":{"name":"T"},"transform":[{"filter":"datum.p==1 && datum.k!='n'"}],"mark":{"type":"text","font":"DejaVu Sans","fontSize":38,"baseline":"middle","align":"center"},"encoding":{"text":{"field":"t"},"color":{"condition":{"test":"datum.k=='m'","value":"#ff00ff"},"value":"black"}}}
]},
{"width":523,"height":477,"data":{"name":"P2"},
"encoding":{"x":{"field":"x","type":"quantitative","scale":{"domain":[0,100],"nice":false,"zero":false},"axis":{"values":[0,20,40,60,80,100],"title":"RH(%)"}},"y":{"field":"y","type":"quantitative","scale":{"domain":[0,6],"nice":false},"axis":{"values":[0,0.2,0.4,0.6,0.8,1,1.2,1.4,1.6,1.8,2,2.2,2.4,2.6,2.8,3,3.2,3.4,3.6,3.8,4,4.2,4.4,4.6,4.8,5,5.2,5.4,5.6,5.8,6],"labelExpr":"abs(datum.value-round(datum.value))<0.001 ? toString(round(datum.value)) : ''","tickSize":{"condition":{"test":"abs(datum.value-round(datum.value))<0.001","value":-7},"value":-4},"gridOpacity":{"condition":{"test":"abs(datum.value-round(datum.value))<0.001","value":1},"value":0},"title":"Water content (%)","titleFontSize":32,"titleY":216,"grid":true}}},
"layer":[
{"mark":{"type":"line"},"encoding":{"detail":{"field":"i","type":"nominal"},"strokeWidth":{"field":"g","type":"nominal","scale":{"domain":["a1","d1","a2","d2","pa","pd"],"range":[1,1.2,1,1.2,1,1.6]},"legend":null},"color":{"field":"g","type":"nominal","scale":{"domain":["a1","d1","a2","d2","pa","pd"],"range":["#c0c0c0","#000000","#c0c0c0","#000000","#ffbfff","#ff00ff"]},"legend":{"title":null,"orient":"none","legendX":4,"legendY":7,"labelExpr":"datum.value=='a1'?'SSS(Case 1: adsorption)':datum.value=='d1'?'SSS(Case 1: desorption)':datum.value=='a2'?'SSS(Case 2: adsorption)':datum.value=='d2'?'SSS(Case 2: desorption)':datum.value=='pa'?'ProUmid(Case 1: adsorption)':'ProUmid(Case 1: desorption)'","encode":{"symbols":{"update":{"shape":{"signal":"(datum.value=='a2'||datum.value=='d2')?'M-1,0H1.15M2.85,0H5.2M1.15,-0.85H2.85V0.85H1.15Z':'M-1,0H0.9M3.1,0H5.2M3.1,0A1.1,1.1,0,1,1,0.9,0A1.1,1.1,0,1,1,3.1,0'"},"strokeWidth":{"value":2.2},"fill":{"value":"white"},"fillOpacity":{"value":1},"opacity":{"value":1}}},"legend":{"update":{"strokeWidth":{"value":3}}}}}}}},
{"mark":{"type":"point","filled":false,"fill":"white","size":26,"strokeWidth":1,"opacity":1},"encoding":{"color":{"field":"g","type":"nominal","scale":{"domain":["a1","d1","a2","d2","pa","pd"],"range":["#c0c0c0","#000000","#c0c0c0","#000000","#ffbfff","#ff00ff"]}},"shape":{"field":"g","type":"nominal","scale":{"domain":["a1","d1","a2","d2","pa","pd"],"range":["circle","circle","square","square","circle","circle"]},"legend":null}}},
{"data":{"name":"T"},"transform":[{"filter":"datum.p==2 && datum.k=='n'"}],"mark":{"type":"text","font":"Liberation Sans","fontSize":30,"baseline":"middle","align":"center"},"encoding":{"text":{"field":"t"},"color":{"value":"black"}}},
{"data":{"name":"T"},"transform":[{"filter":"datum.p==2 && datum.k!='n'"}],"mark":{"type":"text","font":"DejaVu Sans","fontSize":38,"baseline":"middle","align":"center"},"encoding":{"text":{"field":"t"},"color":{"condition":{"test":"datum.k=='m'","value":"#ff00ff"},"value":"black"}}}
]}
]},
{"spacing":80,"resolve":{"legend":{"color":"independent"}},"hconcat":[
{"width":523,"height":477,"data":{"name":"P3"},
"encoding":{"x":{"field":"x","type":"quantitative","scale":{"domain":[0,100],"nice":false,"zero":false},"axis":{"values":[0,20,40,60,80,100],"title":"RH(%)"}},"y":{"field":"y","type":"quantitative","scale":{"domain":[0,6],"nice":false},"axis":{"values":[0,0.2,0.4,0.6,0.8,1,1.2,1.4,1.6,1.8,2,2.2,2.4,2.6,2.8,3,3.2,3.4,3.6,3.8,4,4.2,4.4,4.6,4.8,5,5.2,5.4,5.6,5.8,6],"labelExpr":"abs(datum.value-round(datum.value))<0.001 ? toString(round(datum.value)) : ''","tickSize":{"condition":{"test":"abs(datum.value-round(datum.value))<0.001","value":-7},"value":-4},"gridOpacity":{"condition":{"test":"abs(datum.value-round(datum.value))<0.001","value":1},"value":0},"title":"Water content (%)","titleFontSize":32,"titleY":216,"grid":true}}},
"layer":[
{"mark":{"type":"line"},"encoding":{"detail":{"field":"i","type":"nominal"},"strokeWidth":{"field":"g","type":"nominal","scale":{"domain":["a1","d1","a2","d2","pa","pd"],"range":[1,1.2,1,1.2,1,1.6]},"legend":null},"color":{"field":"g","type":"nominal","scale":{"domain":["a1","d1","a2","d2","pa","pd"],"range":["#c0c0c0","#000000","#c0c0c0","#000000","#ffbfff","#ff00ff"]},"legend":{"title":null,"orient":"none","legendX":4,"legendY":7,"labelExpr":"datum.value=='a1'?'SSS(Case 1: adsorption)':datum.value=='d1'?'SSS(Case 1: desorption)':datum.value=='a2'?'SSS(Case 2: adsorption)':datum.value=='d2'?'SSS(Case 2: desorption)':datum.value=='pa'?'ProUmid(Case 1: adsorption)':'ProUmid(Case 1: desorption)'","encode":{"symbols":{"update":{"shape":{"signal":"(datum.value=='a2'||datum.value=='d2')?'M-1,0H1.15M2.85,0H5.2M1.15,-0.85H2.85V0.85H1.15Z':'M-1,0H0.9M3.1,0H5.2M3.1,0A1.1,1.1,0,1,1,0.9,0A1.1,1.1,0,1,1,3.1,0'"},"strokeWidth":{"value":2.2},"fill":{"value":"white"},"fillOpacity":{"value":1},"opacity":{"value":1}}},"legend":{"update":{"strokeWidth":{"value":3}}}}}}}},
{"mark":{"type":"point","filled":false,"fill":"white","size":26,"strokeWidth":1,"opacity":1},"encoding":{"color":{"field":"g","type":"nominal","scale":{"domain":["a1","d1","a2","d2","pa","pd"],"range":["#c0c0c0","#000000","#c0c0c0","#000000","#ffbfff","#ff00ff"]}},"shape":{"field":"g","type":"nominal","scale":{"domain":["a1","d1","a2","d2","pa","pd"],"range":["circle","circle","square","square","circle","circle"]},"legend":null}}},
{"data":{"name":"T"},"transform":[{"filter":"datum.p==3 && datum.k=='n'"}],"mark":{"type":"text","font":"Liberation Sans","fontSize":30,"baseline":"middle","align":"center"},"encoding":{"text":{"field":"t"},"color":{"value":"black"}}},
{"data":{"name":"T"},"transform":[{"filter":"datum.p==3 && datum.k!='n'"}],"mark":{"type":"text","font":"DejaVu Sans","fontSize":38,"baseline":"middle","align":"center"},"encoding":{"text":{"field":"t"},"color":{"condition":{"test":"datum.k=='m'","value":"#ff00ff"},"value":"black"}}}
]},
{"width":523,"height":477,"data":{"name":"P4"},
"encoding":{"x":{"field":"x","type":"quantitative","scale":{"domain":[0,100],"nice":false,"zero":false},"axis":{"values":[0,20,40,60,80,100],"title":"RH(%)"}},"y":{"field":"y","type":"quantitative","scale":{"domain":[0,6],"nice":false},"axis":{"values":[0,0.2,0.4,0.6,0.8,1,1.2,1.4,1.6,1.8,2,2.2,2.4,2.6,2.8,3,3.2,3.4,3.6,3.8,4,4.2,4.4,4.6,4.8,5,5.2,5.4,5.6,5.8,6],"labelExpr":"abs(datum.value-round(datum.value))<0.001 ? toString(round(datum.value)) : ''","tickSize":{"condition":{"test":"abs(datum.value-round(datum.value))<0.001","value":-7},"value":-4},"gridOpacity":{"condition":{"test":"abs(datum.value-round(datum.value))<0.001","value":1},"value":0},"title":"Water content (%)","titleFontSize":32,"titleY":216,"grid":true}}},
"layer":[
{"mark":{"type":"line"},"encoding":{"detail":{"field":"i","type":"nominal"},"strokeWidth":{"field":"g","type":"nominal","scale":{"domain":["a1","d1","a2","d2","pa","pd"],"range":[1,1.2,1,1.2,1,1.6]},"legend":null},"color":{"field":"g","type":"nominal","scale":{"domain":["a1","d1","a2","d2","pa","pd"],"range":["#c0c0c0","#000000","#c0c0c0","#000000","#ffbfff","#ff00ff"]},"legend":{"title":null,"orient":"none","legendX":4,"legendY":7,"labelExpr":"datum.value=='a1'?'SSS(Case 1: adsorption)':datum.value=='d1'?'SSS(Case 1: desorption)':datum.value=='a2'?'SSS(Case 2: adsorption)':datum.value=='d2'?'SSS(Case 2: desorption)':datum.value=='pa'?'ProUmid(Case 1: adsorption)':'ProUmid(Case 1: desorption)'","encode":{"symbols":{"update":{"shape":{"signal":"(datum.value=='a2'||datum.value=='d2')?'M-1,0H1.15M2.85,0H5.2M1.15,-0.85H2.85V0.85H1.15Z':'M-1,0H0.9M3.1,0H5.2M3.1,0A1.1,1.1,0,1,1,0.9,0A1.1,1.1,0,1,1,3.1,0'"},"strokeWidth":{"value":2.2},"fill":{"value":"white"},"fillOpacity":{"value":1},"opacity":{"value":1}}},"legend":{"update":{"strokeWidth":{"value":3}}}}}}}},
{"mark":{"type":"point","filled":false,"fill":"white","size":26,"strokeWidth":1,"opacity":1},"encoding":{"color":{"field":"g","type":"nominal","scale":{"domain":["a1","d1","a2","d2","pa","pd"],"range":["#c0c0c0","#000000","#c0c0c0","#000000","#ffbfff","#ff00ff"]}},"shape":{"field":"g","type":"nominal","scale":{"domain":["a1","d1","a2","d2","pa","pd"],"range":["circle","circle","square","square","circle","circle"]},"legend":null}}},
{"data":{"name":"T"},"transform":[{"filter":"datum.p==4 && datum.k=='n'"}],"mark":{"type":"text","font":"Liberation Sans","fontSize":30,"baseline":"middle","align":"center"},"encoding":{"text":{"field":"t"},"color":{"value":"black"}}},
{"data":{"name":"T"},"transform":[{"filter":"datum.p==4 && datum.k!='n'"}],"mark":{"type":"text","font":"DejaVu Sans","fontSize":38,"baseline":"middle","align":"center"},"encoding":{"text":{"field":"t"},"color":{"condition":{"test":"datum.k=='m'","value":"#ff00ff"},"value":"black"}}}
]}
]},
{"spacing":0,"resolve":{"legend":{"color":"independent"}},"hconcat":[
{"width":317,"height":10,"data":{"values":[{"a":1}]},"mark":{"type":"point","opacity":0},"encoding":{}},
{"width":523,"height":477,"data":{"name":"P5"},
"encoding":{"x":{"field":"x","type":"quantitative","scale":{"domain":[0,100],"nice":false,"zero":false},"axis":{"values":[0,20,40,60,80,100],"title":"RH(%)"}},"y":{"field":"y","type":"quantitative","scale":{"domain":[0,6],"nice":false},"axis":{"values":[0,0.2,0.4,0.6,0.8,1,1.2,1.4,1.6,1.8,2,2.2,2.4,2.6,2.8,3,3.2,3.4,3.6,3.8,4,4.2,4.4,4.6,4.8,5,5.2,5.4,5.6,5.8,6],"labelExpr":"abs(datum.value-round(datum.value))<0.001 ? toString(round(datum.value)) : ''","tickSize":{"condition":{"test":"abs(datum.value-round(datum.value))<0.001","value":-7},"value":-4},"gridOpacity":{"condition":{"test":"abs(datum.value-round(datum.value))<0.001","value":1},"value":0},"title":"Water content (%)","titleFontSize":32,"titleY":216,"grid":true}}},
"layer":[
{"mark":{"type":"line"},"encoding":{"detail":{"field":"i","type":"nominal"},"strokeWidth":{"field":"g","type":"nominal","scale":{"domain":["a1","d1","a2","d2","pa","pd"],"range":[1,1.2,1,1.2,1,1.6]},"legend":null},"color":{"field":"g","type":"nominal","scale":{"domain":["a1","d1","a2","d2","pa","pd"],"range":["#c0c0c0","#000000","#c0c0c0","#000000","#ffbfff","#ff00ff"]},"legend":{"title":null,"orient":"none","legendX":4,"legendY":7,"labelExpr":"datum.value=='a1'?'SSS(Case 1: adsorption)':datum.value=='d1'?'SSS(Case 1: desorption)':datum.value=='a2'?'SSS(Case 2: adsorption)':datum.value=='d2'?'SSS(Case 2: desorption)':datum.value=='pa'?'ProUmid(Case 1: adsorption)':'ProUmid(Case 1: desorption)'","encode":{"symbols":{"update":{"shape":{"signal":"(datum.value=='a2'||datum.value=='d2')?'M-1,0H1.15M2.85,0H5.2M1.15,-0.85H2.85V0.85H1.15Z':'M-1,0H0.9M3.1,0H5.2M3.1,0A1.1,1.1,0,1,1,0.9,0A1.1,1.1,0,1,1,3.1,0'"},"strokeWidth":{"value":2.2},"fill":{"value":"white"},"fillOpacity":{"value":1},"opacity":{"value":1}}},"legend":{"update":{"strokeWidth":{"value":3}}}}}}}},
{"mark":{"type":"point","filled":false,"fill":"white","size":26,"strokeWidth":1,"opacity":1},"encoding":{"color":{"field":"g","type":"nominal","scale":{"domain":["a1","d1","a2","d2","pa","pd"],"range":["#c0c0c0","#000000","#c0c0c0","#000000","#ffbfff","#ff00ff"]}},"shape":{"field":"g","type":"nominal","scale":{"domain":["a1","d1","a2","d2","pa","pd"],"range":["circle","circle","square","square","circle","circle"]},"legend":null}}},
{"data":{"name":"T"},"transform":[{"filter":"datum.p==5 && datum.k=='n'"}],"mark":{"type":"text","font":"Liberation Sans","fontSize":30,"baseline":"middle","align":"center"},"encoding":{"text":{"field":"t"},"color":{"value":"black"}}},
{"data":{"name":"T"},"transform":[{"filter":"datum.p==5 && datum.k!='n'"}],"mark":{"type":"text","font":"DejaVu Sans","fontSize":38,"baseline":"middle","align":"center"},"encoding":{"text":{"field":"t"},"color":{"condition":{"test":"datum.k=='m'","value":"#ff00ff"},"value":"black"}}}
]}
]}
]
}
